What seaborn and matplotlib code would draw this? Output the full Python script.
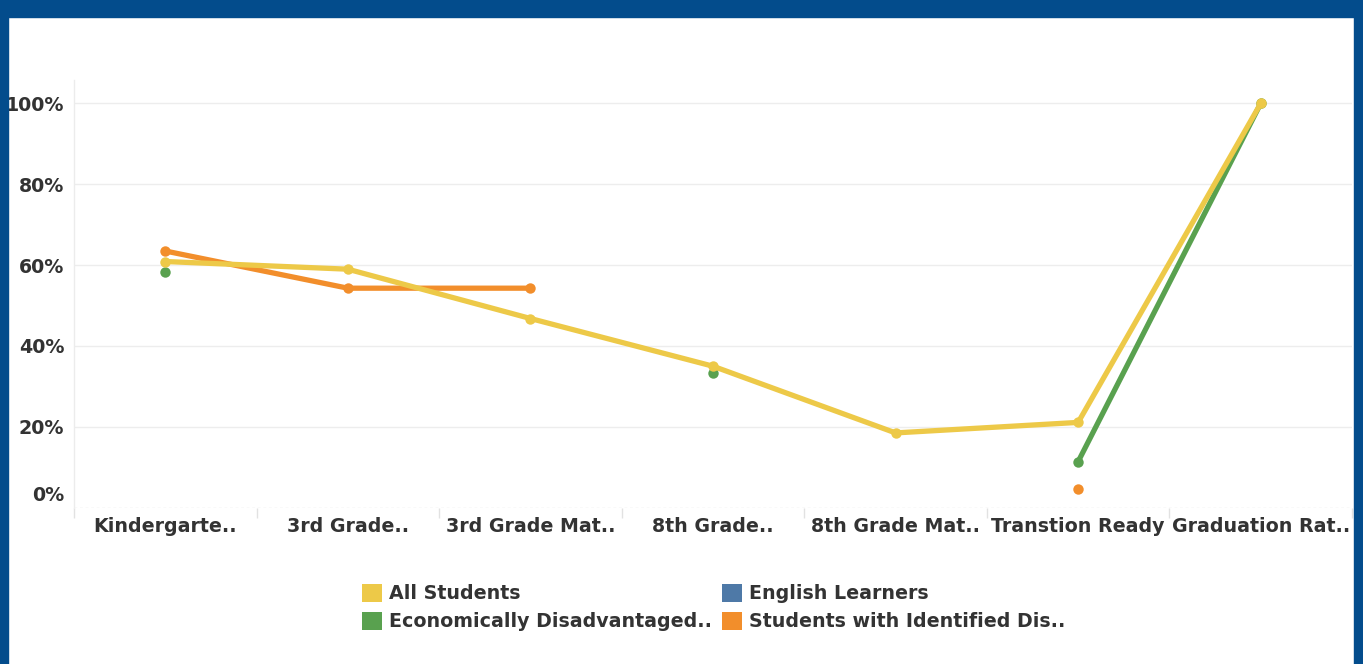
import numpy as np
import pandas as pd
import matplotlib
matplotlib.use("Agg")
import matplotlib.pyplot as plt
import matplotlib.transforms as mtransforms
from matplotlib.patches import Patch, Rectangle
import seaborn as sns

categories = ["Kindergarte..", "3rd Grade..", "3rd Grade Mat..", "8th Grade..",
              "8th Grade Mat..", "Transtion Ready", "Graduation Rat.."]
all_students = [60.9, 59.0, 46.8, 35.0, 18.5, 21.1, 100.0]
english_learners = [np.nan] * 7
econ_disadv = [58.3, np.nan, np.nan, 33.2, np.nan, 11.4, 100.0]
disabilities = [63.5, 54.3, 54.3, np.nan, np.nan, 4.6, np.nan]

series_names = ["All Students", "English Learners",
                "Economically Disadvantaged..", "Students with Identified Dis.."]
series_values = [all_students, english_learners, econ_disadv, disabilities]
palette = {"All Students": "#EDC948", "English Learners": "#4E79A7",
           "Economically Disadvantaged..": "#59A14F",
           "Students with Identified Dis..": "#F28E2B"}
yticks = [0, 20, 40, 60, 80, 100]

# long table, contiguous runs get their own unit so gaps stay open
rows = []
for name, vals in zip(series_names, series_values):
    seg = 0
    prev_ok = False
    for i, v in enumerate(vals):
        if np.isnan(v):
            prev_ok = False
            continue
        if not prev_ok:
            seg += 1
        prev_ok = True
        rows.append({"series": name, "pos": i, "value": v, "seg": f"{name}-{seg}"})
df = pd.DataFrame(rows)

sns.set_theme(style="white")
plt.rcParams["font.family"] = ["DejaVu Sans"]
text_col = "#333333"
fs = 13.7

fig = plt.figure(figsize=(13.63, 6.64), dpi=100)
ax = fig.add_axes([74 / 1363, 1 - 507.7 / 664, (1352 - 74) / 1363, (507.7 - 80) / 664])

draw_order = ["Economically Disadvantaged..", "Students with Identified Dis..", "All Students"]
sns.lineplot(data=df, x="pos", y="value", hue="series", units="seg", estimator=None,
             hue_order=draw_order, palette=palette, sort=False, legend=False,
             linewidth=3.8, marker="o", markersize=7.5, markeredgewidth=0, ax=ax)

ax.set_xlim(-0.5, len(categories) - 0.5)
ax.set_ylim(0, 105.8)
ax.set_xlabel("")
ax.set_ylabel("")

for y in yticks[1:]:
    ax.axhline(y, color="#ededed", linewidth=1, zorder=0)
ax.axhline(0, color="#e2e2e2", linewidth=1, linestyle=(0, (2, 2)), zorder=0)

for s in ["top", "right", "bottom"]:
    ax.spines[s].set_visible(False)
ax.spines["left"].set_color("#ececec")
ax.spines["left"].set_linewidth(1)

ax.set_xticks(range(len(categories)))
ax.set_xticklabels(categories, fontsize=fs, fontweight="bold", color=text_col)
ax.set_xticks(np.arange(-0.5, len(categories)), minor=True)
ax.tick_params(axis="x", which="major", length=0, pad=7)
ax.tick_params(axis="x", which="minor", length=7, color="#e2e2e2", width=1, bottom=True)

ax.set_yticks(yticks)
ax.set_yticklabels([f"{v}%" for v in yticks], fontsize=fs, fontweight="bold", color=text_col)
ax.tick_params(axis="y", length=0, pad=7)
# tableau pushes the 0% label up inside the pane
lbl0 = ax.get_yticklabels()[0]
lbl0.set_transform(lbl0.get_transform() + mtransforms.ScaledTranslation(0, 14 / 100, fig.dpi_scale_trans))

handles = [Patch(facecolor=palette[n], edgecolor="none") for n in
           ["All Students", "Economically Disadvantaged..", "English Learners",
            "Students with Identified Dis.."]]
labels = ["All Students", "Economically Disadvantaged..", "English Learners",
          "Students with Identified Dis.."]
leg = fig.legend(handles, labels, ncol=2, loc="upper left",
                 bbox_to_anchor=(362 / 1363, 1 - 584 / 664), frameon=False,
                 borderpad=0, borderaxespad=0, handlelength=1.05, handleheight=1.05,
                 handletextpad=0.38, columnspacing=0.5, labelspacing=0.45,
                 prop={"size": fs, "weight": "bold"})
for t in leg.get_texts():
    t.set_color(text_col)

# dashboard frame
frame_col = "#034C8C"
fig.patches.append(Rectangle((0, 1 - 17 / 664), 1, 17 / 664, transform=fig.transFigure,
                             color=frame_col, zorder=10))
fig.patches.append(Rectangle((0, 0), 8 / 1363, 1, transform=fig.transFigure,
                             color=frame_col, zorder=10))
fig.patches.append(Rectangle((1354 / 1363, 0), 9 / 1363, 1, transform=fig.transFigure,
                             color=frame_col, zorder=10))

fig.savefig("out.png", dpi=100, facecolor="white")
